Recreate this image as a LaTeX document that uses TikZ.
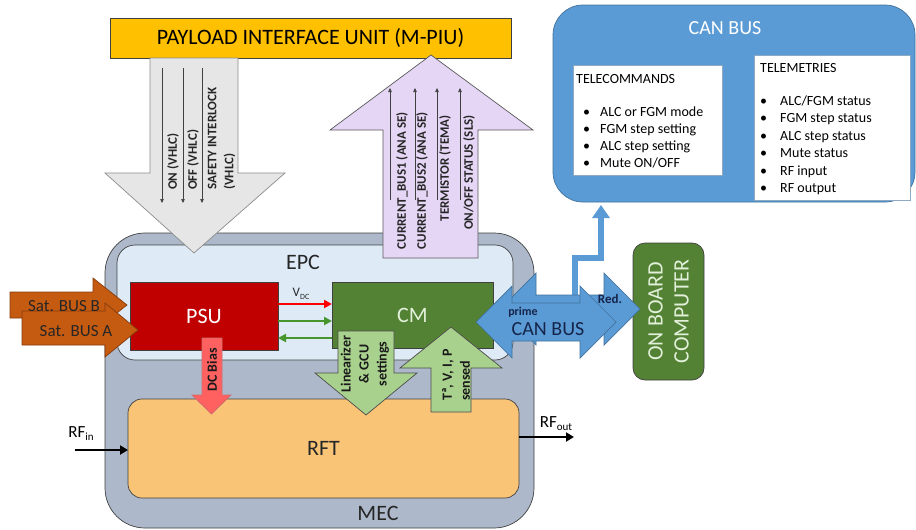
\documentclass[tikz,border=0pt]{standalone}
\usepackage{fontspec}
\setmainfont{Carlito}
\usetikzlibrary{arrows.meta}
\definecolor{piuY}{HTML}{FFC000}
\definecolor{canB}{HTML}{5B9BD5}
\definecolor{canBd}{HTML}{41719C}
\definecolor{mecG}{HTML}{ADB9CA}
\definecolor{epcB}{HTML}{DEEBF7}
\definecolor{psuR}{HTML}{C00000}
\definecolor{cmG}{HTML}{548235}
\definecolor{rftO}{HTML}{FAC477}
\definecolor{satO}{HTML}{C55A11}
\definecolor{satOd}{HTML}{843C0C}
\definecolor{dcR}{HTML}{FF6161}
\definecolor{ltG}{HTML}{A9D18E}
\definecolor{grA}{HTML}{E7E6E6}
\definecolor{puA}{HTML}{E6D6F6}
\definecolor{txtL}{HTML}{E2F0D9}
\definecolor{navy}{HTML}{15244A}
\newcommand{\fsz}[2]{\fontsize{#1pt}{#2pt}\selectfont}
\newcommand{\subt}[1]{\raisebox{-3pt}{\fsz{11}{11}#1}}
\begin{document}
\begin{tikzpicture}[x=1pt,y=-1pt,
  box/.style={draw=black!75, line width=0.7pt, anchor=north west, inner sep=0pt, outer sep=0pt},
  big/.style={font=\fsz{22}{26}},
  body/.style={font=\fsz{14}{17}},
  lab/.style={font=\bfseries\fsz{13}{17}, text=black!85, inner sep=0pt},
  blab/.style={font=\bfseries\fsz{14}{18}, text=black!90, inner sep=0pt},
  blk/.style={line width=0.7pt, line join=miter},
  thinarr/.style={draw=black!75, line width=0.6pt, -{Triangle[length=4pt,width=3.5pt]}},
  rfarr/.style={draw=black, line width=2.2pt, -{Triangle[length=8pt,width=9pt]}},
  smallarr/.style={line width=2.6pt, -{Triangle[length=8pt,width=8pt]}}
]
\useasboundingbox (0,0) rectangle (916,530);

% ---- main boxes
\node[box, fill=mecG, rounded corners=40pt, minimum width=429pt, minimum height=295pt] (mec) at (105,233) {};
\node[box, fill=epcB, rounded corners=18pt, minimum width=396pt, minimum height=115pt] (epc) at (117,245) {};
\node[box, fill=rftO, rounded corners=14pt, minimum width=391pt, minimum height=99pt] (rft) at (128,399) {};
\node[box, fill=psuR, minimum width=148pt, minimum height=68pt] (psu) at (130,282) {};
\node[box, fill=cmG, minimum width=161pt, minimum height=66pt] (cm) at (332,282) {};
\node[box, fill=piuY, minimum width=401pt, minimum height=40pt] (piu) at (110,18) {};
\node[box, fill=canB, draw=canBd, rounded corners=30pt, minimum width=362pt, minimum height=197pt] (canbox) at (553,5) {};
\node[box, fill=white, draw=canBd!60, minimum width=149pt, minimum height=110pt] (tcbox) at (573,65) {};
\node[box, fill=white, draw=canBd!60, minimum width=156pt, minimum height=145pt] (tmbox) at (754,55) {};
\node[box, fill=cmG, rounded corners=12pt, minimum width=71pt, minimum height=137pt] (obc) at (633,243) {};

% ---- box texts
\node[big] (piut) at (piu.center) {PAYLOAD INTERFACE UNIT (M-PIU)};
\node[big, text=black!85] (epct) at (303,262) {EPC};
\node[big, text=black!85] (mect) at (378,513) {MEC};
\node[big, text=black!85] (rftt) at (rft.center) {RFT};
\node[big, text=white] (psut) at (psu.center) {PSU};
\node[big, text=txtL] (cmt) at (cm.center) {CM};
\node[font=\fsz{20}{24}, text=white] (cant) at (725,28) {CAN BUS};
\node[big, text=txtL, rotate=90, align=center] (obct) at (obc.center) {ON BOARD\\COMPUTER};

\node[body, anchor=base west, inner sep=0pt] (tch) at (576,83) {TELECOMMANDS};
\foreach \t [count=\i] in {ALC or FGM mode, FGM step setting, ALC step setting, {Mute ON/OFF}}
  \node[body, anchor=base west, inner sep=0pt] (tc\i) at (583,{116+17.3*(\i-1)}) {\makebox[17pt][l]{•}\t};
\node[body, anchor=base west, inner sep=0pt] (tmh) at (760,72) {TELEMETRIES};
\foreach \t [count=\i] in {{ALC/FGM status}, FGM step status, ALC step status, Mute status, RF input, RF output}
  \node[body, anchor=base west, inner sep=0pt] (tm\i) at (760,{105+17.5*(\i-1)}) {\makebox[20pt][l]{•}\t};

% ---- grey command arrow (PIU -> EPC)
\draw[blk, fill=grA, draw=black!45] (150,58) -- (238,58) -- (238,173) -- (285,173) -- (194,253) -- (105,173) -- (150,173) -- cycle;
\foreach \x in {162,183,202} \draw[thinarr] (\x,68) -- (\x,203);
\node[lab, rotate=90, anchor=west] (onl) at (173,190) {ON (VHLC)};
\node[lab, rotate=90, anchor=west] (offl) at (193,190) {OFF (VHLC)};
\node[lab, rotate=90, anchor=west, align=left] (safl) at (221.5,190) {SAFETY INTERLOCK\\(VHLC)};

% ---- purple telemetry arrow (EPC -> PIU)
\draw[blk, fill=puA, draw=black!65] (383,258) -- (383,130) -- (330,130) -- (431,55) -- (533,130) -- (478,130) -- (478,258) -- cycle;
\foreach \x in {390,415,437,460} \draw[thinarr] (\x,200) -- (\x,88);
\node[lab, rotate=90, anchor=east] (cb1l) at (402,112) {CURRENT\_BUS1 (ANA SE)};
\node[lab, rotate=90, anchor=east] (cb2l) at (422,112) {CURRENT\_BUS2 (ANA SE)};
\node[lab, rotate=90, anchor=east] (teml) at (445,115) {TERMISTOR (TEMA)};
\node[lab, rotate=90, anchor=east] (slsl) at (469,115) {ON/OFF STATUS (SLS)};

% ---- PSU <-> CM arrows
\draw[smallarr, draw=red] ([yshift=12pt]psu.east) -- ([yshift=12pt]psu.east -| cm.west);
\draw[smallarr, draw=cmG!85!green] ([yshift=-5pt]psu.east) -- ([yshift=-5pt]psu.east -| cm.west);
\draw[smallarr, draw=cmG!85!green] ([yshift=-22pt]psu.east -| cm.west) -- ([yshift=-22pt]psu.east);
\node[font=\fsz{13}{15}, text=black!85] (vdc) at (301,294) {V\subt{\fsz{8}{8}DC}};

% ---- DC Bias arrow
\draw[blk, fill=dcR, draw=dcR!60!gray] (202,338) -- (222,338) -- (222,395) -- (231,395) -- (211.5,414) -- (192,395) -- (202,395) -- cycle;
\node[blab, rotate=90] (dcbl) at (212,370) {DC Bias};

% ---- Linearizer arrow
\draw[blk, fill=ltG, draw=black!70] (338,331) -- (394,331) -- (394,373) -- (417,373) -- (366,415) -- (315,373) -- (338,373) -- cycle;
\node[blab, rotate=90, align=center] (linl) at (365,364) {Linearizer\\\& GCU\\settings};

% ---- sensed arrow
\draw[blk, fill=ltG, draw=black!70] (431,412) -- (431,368) -- (400,368) -- (451,327) -- (502,368) -- (471,368) -- (471,412) -- cycle;
\node[blab, rotate=90, anchor=west, align=left] (tvipl) at (456,401) {Tª, V, I, P\\sensed};

% ---- satellite buses
\draw[blk, fill=satO, draw=satOd] (10,292) -- (93,292) -- (93,278) -- (127,305) -- (93,332) -- (93,318) -- (10,318) -- cycle;
\draw[blk, fill=satO, draw=satOd] (22,311) -- (105,311) -- (105,303) -- (138,330) -- (105,357) -- (105,345) -- (22,345) -- cycle;
\node[font=\fsz{17}{20}, text=black!85] (sbb) at (64,306) {Sat. BUS B};
\node[font=\fsz{17}{20}, text=black!85] (sba) at (76,331) {Sat. BUS A};

% ---- RF in / out
\coordinate (rfin) at (75,450);
\coordinate (rfout) at (574,437);
\draw[rfarr] (rfin) -- (rfin -| rft.west);
\draw[rfarr] (rft.east |- rfout) -- (rfout);
\node[font=\fsz{17}{20}] (rfinl) at (81,434) {RF\subt{in}};
\node[font=\fsz{17}{20}] (rfoutl) at (556,424) {RF\subt{out}};

% ---- CAN BUS link to CAN BUS box
\coordinate (cb0) at (575,298);
\coordinate (cbtip) at (601,205);
\draw[draw=canB, line width=6pt, line join=miter, -{Triangle[length=13pt,width=17pt]}] (cb0) -- (575,258) -- (601,258) -- (cbtip);

% ---- CAN BUS double arrows
\draw[blk, fill=canB, draw=canBd] (500,309) -- (536,273) -- (536,295) -- (604,295) -- (604,273) -- (640,309) -- (604,345) -- (604,323) -- (536,323) -- (536,345) -- cycle;
\draw[blk, fill=canB, draw=canBd] (476,322) -- (512,286) -- (512,303) -- (580,303) -- (580,286) -- (616,322) -- (580,358) -- (580,341) -- (512,341) -- (512,358) -- cycle;
\node[font=\bfseries\fsz{12}{14}, text=navy] (priml) at (523,312) {prime};
\node[font=\fsz{20}{24}, text=navy] (canl) at (548,329) {CAN BUS};
\node[font=\bfseries\fsz{13}{15}, text=navy] (redl) at (610,299) {Red.};
\end{tikzpicture}
\end{document}
